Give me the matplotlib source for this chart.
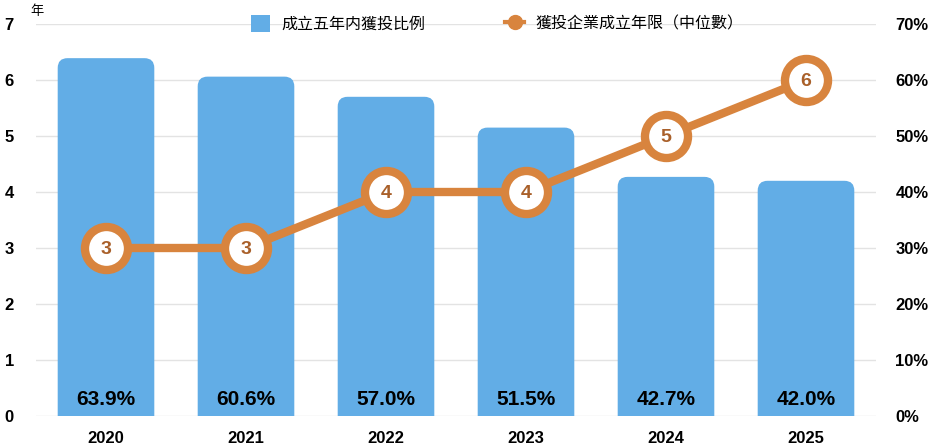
import matplotlib
matplotlib.use("Agg")
import matplotlib.pyplot as plt
from matplotlib.patches import FancyBboxPatch
from matplotlib.lines import Line2D

years = ['2020', '2021', '2022', '2023', '2024', '2025']
share_pct = [63.9, 60.6, 57.0, 51.5, 42.7, 42.0]   # 成立五年內獲投比例 (%)
median_age = [3, 3, 4, 4, 5, 6]                     # 獲投企業成立年限（中位數）
pct_ticks = [0, 10, 20, 30, 40, 50, 60, 70]
year_ticks = [0, 1, 2, 3, 4, 5, 6, 7]

blue = '#62ADE6'
orange = '#D8843E'
num_color = '#A9602A'
cjk = ['Noto Sans CJK TC', 'DejaVu Sans']
latin = ['Liberation Sans', 'DejaVu Sans']

plt.rcParams['font.family'] = latin

fig = plt.figure(figsize=(9.31, 4.45), dpi=100)
ax = fig.add_axes([36/931, 1-416/445, 840/931, 392/445])
ax2 = ax.twinx()
x = list(range(len(years)))

# bars (percent scale, right axis)
ax.set_xlim(-0.5, len(years)-0.5)
ax.set_ylim(0, 70)
bw = 0.69
for xi, v in zip(x, share_pct):
    box = FancyBboxPatch((xi-bw/2, -5), bw, v+5,
                         boxstyle="round,pad=0,rounding_size=0.07",
                         mutation_aspect=25, fc=blue, ec='none', zorder=2)
    ax.add_patch(box)
    ax.text(xi, 2.9, f"{v:.1f}%", ha='center', va='center',
            fontsize=15, fontweight='bold', color='black', zorder=3)

ax.set_axisbelow(True)
ax.yaxis.tick_right()
ax.set_yticks(pct_ticks)
ax.set_yticklabels([f"{t}%" for t in pct_ticks], fontsize=12, fontweight='bold')
ax.tick_params(axis='y', length=0, pad=14)
ax.set_xticks(x)
ax.set_xticklabels(years, fontsize=12, fontweight='bold')
ax.tick_params(axis='x', length=0, pad=11)
ax.grid(axis='y', color='#E3E3E3', lw=1)
for s in ax.spines.values():
    s.set_visible(False)

# line (years scale, left axis)
ax2.set_ylim(0, 7)
ax2.yaxis.tick_left()
ax2.set_yticks(year_ticks)
ax2.set_yticklabels([str(t) for t in year_ticks], fontsize=12, fontweight='bold')
ax2.tick_params(axis='y', length=0, pad=16)
for s in ax2.spines.values():
    s.set_visible(False)
ax2.plot(x, median_age, color=orange, lw=6, marker='o', ms=31,
         mfc='white', mec=orange, mew=6, zorder=3, solid_capstyle='butt')
for xi, v in zip(x, median_age):
    ax2.text(xi, v, str(v), ha='center', va='center_baseline', fontsize=14,
             fontweight='bold', color=num_color, zorder=4)

fig.text(30/931, 1-11/445, '年', family=cjk, fontsize=9.5, va='center', ha='left')

handles = [FancyBboxPatch((0, 0), 1, 1, boxstyle="round,pad=0,rounding_size=0.2",
                          fc=blue, ec='none'),
           Line2D([], [], color=orange, lw=3, marker='o', ms=10,
                  mfc=orange, mec=orange)]
labels = ['成立五年内獲投比例', '獲投企業成立年限（中位數）']
fig.legend(handles, labels, loc='center', bbox_to_anchor=(497/931, 1-24/445),
           ncol=2, frameon=False, prop={'family': cjk, 'size': 11.5},
           handlelength=1.2, handleheight=1.2, columnspacing=5.0, handletextpad=0.7)

fig.savefig('out.png', dpi=100)
